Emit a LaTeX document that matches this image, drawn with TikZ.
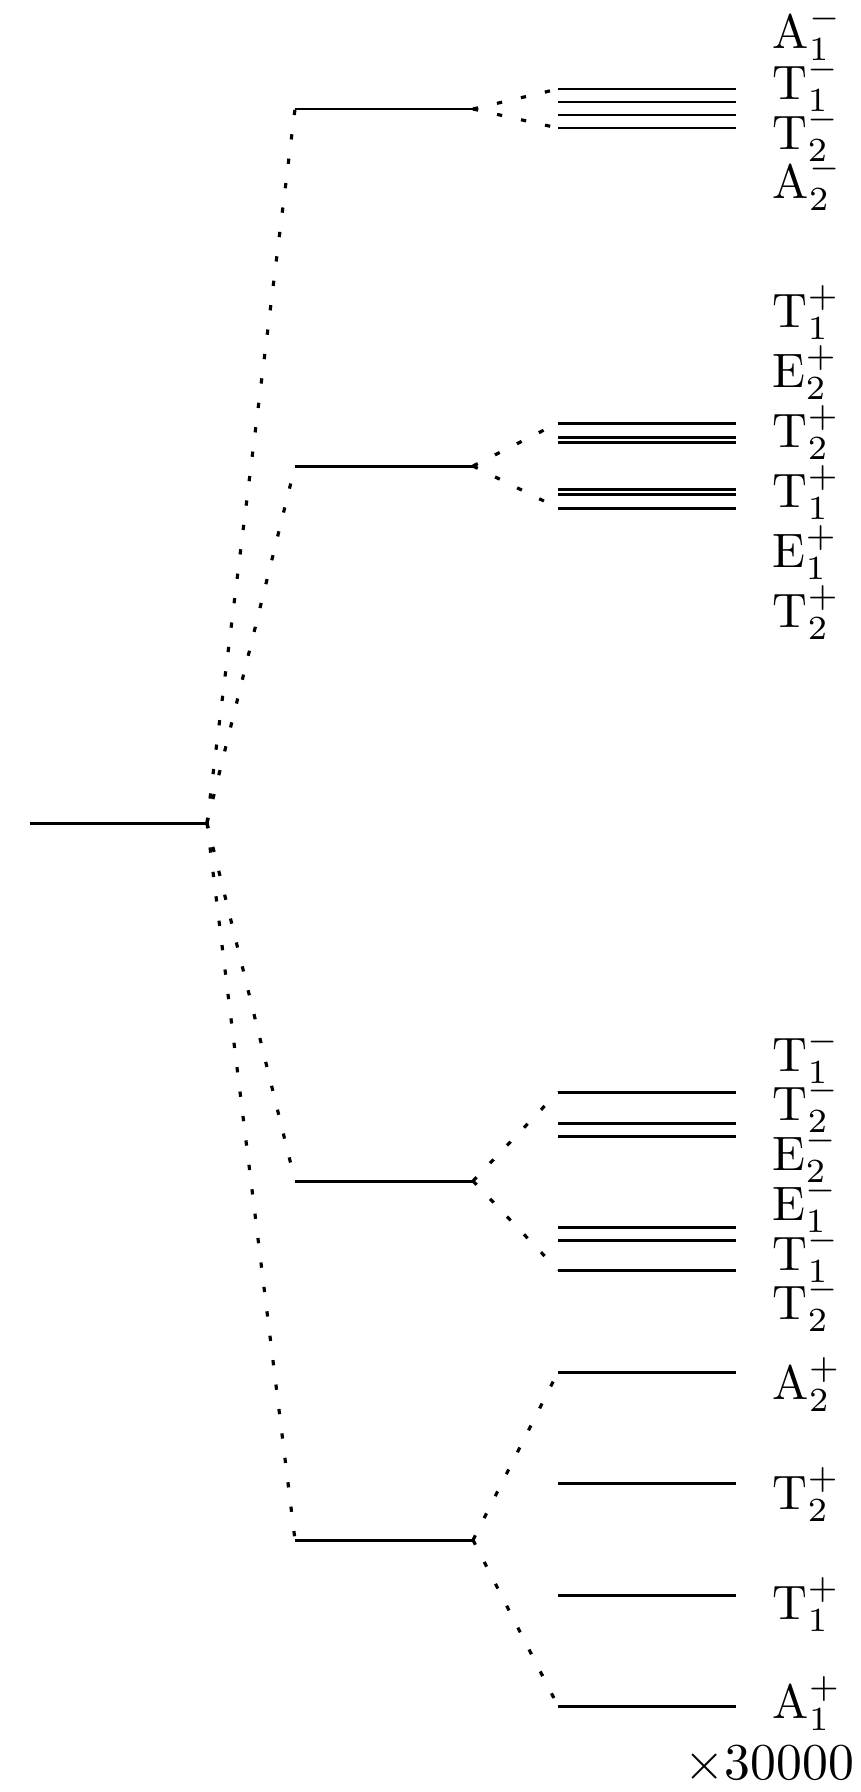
\documentclass[tikz,border=0pt]{standalone}
\usepackage{amsmath}
\usepackage{tikz}
\usetikzlibrary{positioning}
\tikzset{
  levelline/.style={line width=1.7pt},
  corrline/.style={line width=1.8pt, dash pattern=on 3pt off 11pt},
  statelabel/.style={anchor=base west, inner sep=0pt, font=\normalsize, scale=2.75},
}

\begin{document}
\begin{tikzpicture}[x=0.02cm, y=-0.02cm]
  \useasboundingbox (0,0) rectangle (861,1792);
  % free level
  \coordinate (freeL) at (30,823);
  \coordinate (freeR) at (207,823);
  \draw[levelline] (freeL) -- (freeR);
  % first splitting
  \foreach \y [count=\i] in {109, 466, 1181, 1540}
    {\coordinate (midL\i) at (295,\y);
     \coordinate (midR\i) at (473,\y);
     \draw[levelline] (midL\i) -- (midR\i);
     \draw[corrline] (freeR) -- (midL\i);}
  % second splitting
  \foreach \y [count=\k] in {89, 102, 115, 128, 423, 437, 442, 489, 494, 508,
      1092, 1123, 1136, 1227, 1240, 1270, 1372, 1483, 1595, 1706}
    {\coordinate (fineL\k) at (558,\y);
     \coordinate (fineR\k) at (736,\y);
     \draw[levelline] (fineL\k) -- (fineR\k);}
  \foreach \g/\t/\b in {1/1/4, 2/5/10, 3/11/16, 4/17/20}
    {\draw[corrline] (midR\g) -- (fineL\t);
     \draw[corrline] (midR\g) -- (fineL\b);}
  % labels
  \foreach \y/\l/\n/\p [count=\k] in {48/A/1/-, 99/T/1/-, 149/T/2/-, 198/A/2/-,
      327/T/1/+, 387/E/2/+, 447/T/2/+, 507/T/1/+, 567/E/1/+, 627/T/2/+,
      1071/T/1/-, 1120/T/2/-, 1170/E/2/-, 1220/E/1/-, 1270/T/1/-, 1319/T/2/-,
      1399/A/2/+, 1509/T/2/+, 1619/T/1/+, 1718/A/1/+}
    {\node[statelabel] (lab\k) at (772,\y) {$\mathrm{\l}_{\n}^{\p}$};}
  \node[statelabel, anchor=base east, scale=1.07] (scale) at (855,1779) {$\times 30000$};
\end{tikzpicture}
\end{document}
